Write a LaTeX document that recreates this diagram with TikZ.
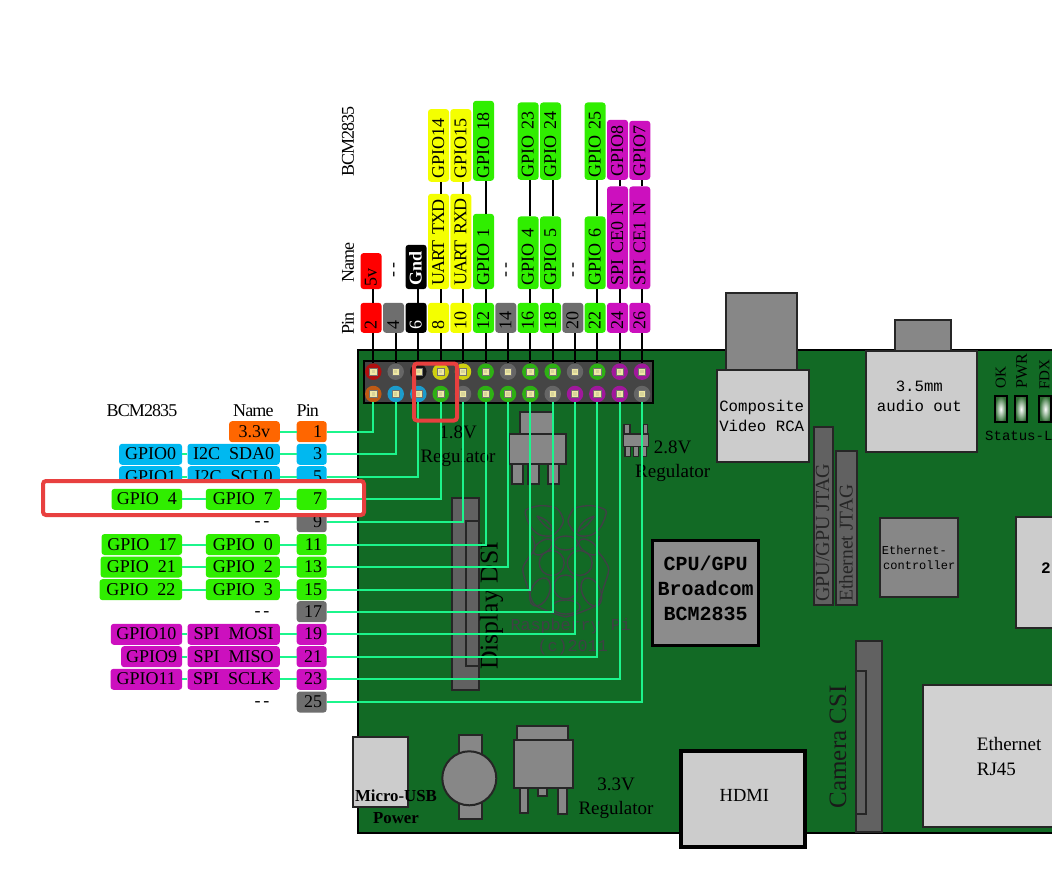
\documentclass[tikz,border=0pt]{standalone}
\usepackage{fontspec}
\setmainfont{Liberation Serif}
\newfontfamily\labf[WordSpace=2]{Liberation Serif}
\newfontfamily\tightf[LetterSpace=-5]{Liberation Serif}
\newfontfamily\monof{Liberation Mono}
\definecolor{board}{HTML}{126A25}
\definecolor{cOr}{HTML}{FF6600}
\definecolor{cBl}{HTML}{00B8F0}
\definecolor{cGr}{HTML}{30EE00}
\definecolor{cMa}{HTML}{CC10BE}
\definecolor{cGy}{HTML}{6E6E6E}
\definecolor{cRe}{HTML}{FF0000}
\definecolor{cYe}{HTML}{F4FF00}
\definecolor{cBk}{HTML}{000000}
\definecolor{dOr}{HTML}{BE5A14}
\definecolor{dBl}{HTML}{1C9CCC}
\definecolor{dGr}{HTML}{2EB014}
\definecolor{dMa}{HTML}{A0189C}
\definecolor{dGy}{HTML}{666666}
\definecolor{dRe}{HTML}{B01010}
\definecolor{dYe}{HTML}{CFCF10}
\definecolor{dBk}{HTML}{151515}
\definecolor{wirec}{HTML}{1CF58C}
\definecolor{hired}{HTML}{E8403F}
\definecolor{logoc}{HTML}{3F4145}
\definecolor{ledout}{HTML}{2F6E33}
\definecolor{padcream}{HTML}{F0E9A4}
\definecolor{padinner}{HTML}{D8D49A}
\tikzset{
  lab/.style={rounded corners=3pt,font=\labf\fontsize{18}{20}\selectfont,inner sep=0pt,minimum height=21pt,text height=13pt,text depth=2pt},
  leftpin/.style={lab,minimum width=30pt,text width=21pt,align=right},
  rowbox/.style={lab,anchor=east},
  toppin/.style={lab,rotate=90,anchor=west,minimum width=30pt,text width=24pt,align=left},
  topbox/.style={lab,rotate=90,anchor=west,align=left},
  plainlab/.style={font=\labf\fontsize{18}{20}\selectfont,inner sep=0pt},
  title/.style={font=\tightf\fontsize{18}{20}\selectfont,inner sep=0pt},
  wire/.style={draw=wirec,line width=2pt},
  bwire/.style={draw=black,line width=2.2pt},
  part/.style={draw=black!85,line width=2pt,fill=#1},
  part/.default={black!47},
  ser/.style={font=\fontsize{19}{22}\selectfont,inner sep=0pt,align=center},
  mono/.style={font=\monof\fontsize{15.7}{19}\selectfont,inner sep=0pt},
  pad/.style={circle,inner sep=0pt,minimum size=16.5pt},
  padsq/.style={inner sep=0pt,minimum size=7.5pt,fill=padcream,draw=black!55,line width=.8pt},
  padin/.style={inner sep=0pt,minimum size=3.5pt,fill=padinner},
  logo/.style={draw=logoc,line width=1.4pt},
  highlight/.style={draw=hired,line width=4pt,rounded corners=3pt},
}
\begin{document}
\begin{tikzpicture}[x=1pt,y=-1pt]
\useasboundingbox (0,0) rectangle (1052,877);
\fill[white] (0,0) rectangle (1052,877);
\clip (0,0) rectangle (1052,877);
% board
\draw[fill=board,draw=black,line width=2pt] (357.5,349.5) rectangle (1060,832.5);
% connectors at the top of the board
\draw[part] (726,293.5) rectangle (796.5,371);
\draw[part] (895,320) rectangle (951,351);
% Composite / audio
\node[part=black!20,minimum width=92pt,minimum height=91.5pt,inner sep=0pt] (rca) at (762.7,416) {};
\node[mono,align=center] (rcat) at (761.7,415.5) {Composite\\[1pt]Video RCA};
\node[part=black!20,minimum width=111pt,minimum height=101pt,inner sep=0pt] (aud) at (921.2,401.2) {};
\node[mono,align=center] (audt) at (919.3,396) {3.5mm\\[1pt]audio out};
% LEDs
\foreach \lx/\lw in {994.7/12,1015/12.3,1039.3/12}{
  \shade[inner color=white,outer color=ledout,draw=black,line width=2pt] (\lx,396) rectangle +(\lw,26.3);
}
\node[rotate=90,anchor=west,inner sep=0pt,text=black,font=\fontsize{15}{17}\selectfont] (okt) at (1000.7,388.5) {OK};
\node[rotate=90,anchor=west,inner sep=0pt,text=black,font=\fontsize{16}{17}\selectfont] (pwrt) at (1021.7,389) {PWR};
\node[rotate=90,anchor=west,inner sep=0pt,text=black,font=\fontsize{15}{17}\selectfont] (fdxt) at (1044.5,390) {FDX};
\node[anchor=west,inner sep=0pt,font=\monof\fontsize{14}{16}\selectfont] (stat) at (985,436) {Status-L};
% JTAG
\draw[part=black!62] (813.5,426.5) rectangle (833.3,605);
\draw[part=black!62] (835.5,450.5) rectangle (857,605);
\node[rotate=90,anchor=west,inner sep=0pt,text=black!85,font=\fontsize{20}{22}\selectfont] (jt1) at (822.5,602) {GPU/GPU JTAG};
\node[rotate=90,anchor=west,inner sep=0pt,text=black!85,font=\fontsize{19.5}{22}\selectfont] (jt2) at (846,602) {Ethernet JTAG};
% Ethernet controller
\draw[part] (880,518.3) rectangle (957.7,597.3);
\node[anchor=west,inner sep=0pt,font=\monof\fontsize{12}{14}\selectfont] (ec1) at (881.7,550) {Ethernet-};
\node[anchor=west,inner sep=0pt,font=\monof\fontsize{12}{14}\selectfont] (ec2) at (883,565) {controller};
% USB 2 box
\draw[part=black!20] (1016,516.7) rectangle (1060,627.7);
\node[inner sep=0pt,font=\monof\bfseries\fontsize{16}{18}\selectfont] (two) at (1046,568) {2};
% Ethernet
\draw[part=black!18] (922.7,685) rectangle (1060,826.7);
\node[ser,anchor=west,align=left] (rj) at (976.7,756) {Ethernet\\[3pt]RJ45};
% Camera
\draw[part=black!62] (856,640.7) rectangle (881.7,831.7);
\draw[part=black!62] (856,670.7) rectangle (866,814);
\node[rotate=90,anchor=west,inner sep=0pt,text=black!90,font=\fontsize{25}{27}\selectfont] (camt) at (838,808.5) {Camera CSI};
% CPU
\draw[draw=black,line width=3pt,fill=black!45] (652.7,540.3) rectangle (758.7,645);
\node[inner sep=0pt,align=center,font=\monof\bfseries\fontsize{20}{25}\selectfont] (cpu) at (705.5,588) {CPU/GPU\\Broadcom\\BCM2835};
% HDMI
\draw[draw=black,line width=4pt,fill=black!20] (681,751.3) rectangle (804.7,847);
\node[inner sep=0pt,font=\fontsize{18.5}{20}\selectfont] (hdmi) at (744.3,795) {HDMI};
% power section
\draw[part=black!20] (352.7,737.3) rectangle (408.3,806.7);
\node[inner sep=0pt,align=center,font=\bfseries\fontsize{16.8}{22}\selectfont] (usb) at (396,806.7) {Micro-USB\\Power};
\draw[part] (459.3,735) rectangle (481.7,818.7);
\draw[part] (469.3,778.3) circle (27);
\draw[part] (517.3,725.7) rectangle (567.7,740);
\draw[part] (514.3,740) rectangle (572.7,787.7);
\draw[part] (520,787.7) rectangle (527.7,813.3);
\draw[part] (558.3,787.7) rectangle (566.7,814.3);
\draw[part] (538.3,787.7) rectangle (547.3,796);
\node[ser] (r33) at (616,798) {3.3V\\[2pt]Regulator};
% 1.8 V regulator
\node[ser] (r18) at (458,446) {1.8V\\[2pt]Regulator};
% big regulator
\draw[part] (520,411.7) rectangle (552.7,434);
\draw[part] (509.3,434) rectangle (565.7,464.3);
\draw[part] (511.7,464.3) rectangle (522.7,484);
\draw[part] (528.3,464.3) rectangle (539.3,484);
\draw[part] (548.3,464.3) rectangle (559.3,484);
% small regulator
\draw[part,line width=1.5pt] (624,424.3) rectangle (630,434);
\draw[part,line width=1.5pt] (643.3,424.3) rectangle (647.3,434);
\draw[part,line width=1.5pt] (625,446.7) rectangle (630.7,456.7);
\draw[part,line width=1.5pt] (633.3,446.7) rectangle (638.7,456.7);
\draw[part,line width=1.5pt] (642.7,446.7) rectangle (646.7,456.7);
\draw[part,line width=1.5pt] (623.3,434) rectangle (648.7,446.7);
\node[ser] (r28) at (672.7,461) {2.8V\\[2pt]Regulator};
% Display DSI
\draw[part=black!62] (451.7,497.7) rectangle (478.7,690);
\draw[part=black!62] (466,521) rectangle (478.7,665.7);
\node[rotate=90,anchor=west,inner sep=0pt,font=\fontsize{25.7}{28}\selectfont] (dsi) at (491.5,670) {Display DSI};
% logo
\foreach \m in {0,1}{
\begin{scope}[shift={(\m*1131.4,0)},xscale={1-2*\m}]
  \draw[logo] plot[smooth cycle] coordinates {(526,510)(540,505.7)(556.7,508.3)(563.3,520)(560,528.3)(551.7,535.7)(540,535)(531.7,528.3)(526.7,518.3)};
  \draw[logo] (537,516) .. controls (545,519) and (552,523) .. (553,531) .. controls (546,528) and (541,522) .. (537,516);
  \draw[logo,rotate around={35:(543,547)}] (543,547) ellipse (11pt and 6pt);
  \draw[logo] (551.7,563) circle (12.5pt);
  \draw[logo,rotate around={-25:(540,592)}] (540,592) ellipse (9pt and 15pt);
  \draw[logo] plot[smooth] coordinates {(532,536)(535,548)(527,560)(522.7,570)(528,588)(534,604)(550,612)(565.7,617)};
\end{scope}
}
\draw[logo] (565.7,543) ellipse (12pt and 7pt);
\draw[logo] (565.7,587) circle (12pt);
\draw[logo] (566,607) ellipse (14pt and 7pt);
\node[inner sep=0pt,text=logoc,font=\monof\fontsize{16.7}{20}\selectfont] (rpit) at (570.7,625.7) {Raspberry Pi};
\node[inner sep=0pt,text=logoc,font=\monof\fontsize{16.7}{20}\selectfont] (rpic) at (572.7,646.7) {(c)2011};
% header
\draw[draw=black,line width=2pt,fill=black!73] (364,360.5) rectangle (653,403);
\foreach \n/\x/\c in {2/373.3/dRe,4/395.7/dGy,6/418.3/dBk,8/440.7/dYe,10/463/dYe,12/485.7/dGr,14/508/dGy,16/530.3/dGr,18/552.7/dGr,20/575/dGy,22/597.3/dGr,24/619.7/dMa,26/642/dMa}{
  \node[pad,fill=\c] (pad\n) at (\x,371.7) {};
  \node[padsq] (sq\n) at (\x,371.7) {};
  \node[padin] (in\n) at (\x,371.7) {};
}
\foreach \n/\x/\c in {1/373.3/dOr,3/395.7/dBl,5/418.3/dBl,7/440.7/dGr,9/463/dGy,11/485.7/dGr,13/508/dGr,15/530.3/dGr,17/552.7/dGy,19/575/dMa,21/597.3/dMa,23/619.7/dMa,25/642/dGy}{
  \node[pad,fill=\c] (pad\n) at (\x,394) {};
  \node[padsq] (sq\n) at (\x,394) {};
  \node[padin] (in\n) at (\x,394) {};
}
% top pins (boxes sit 2.2 left of their wires)
\foreach \n/\x/\c/\t in {2/371.1/cRe/black,4/393.5/cGy/black,6/416.1/cBk/white,8/438.5/cYe/black,10/460.8/cYe/black,12/483.5/cGr/black,14/505.8/cGy/black,16/528.1/cGr/black,18/550.5/cGr/black,20/572.8/cGy/black,22/595.1/cGr/black,24/617.5/cMa/black,26/639.8/cMa/black}{
  \node[toppin,fill=\c,text=\t] (P\n) at (\x,333) {\n};
  \draw[bwire] (pad\n.north) -- (pad\n.north |- P\n.west);
}
% top names
\node[topbox,fill=cRe,minimum width=36pt,text width=30pt] (N2) at (371.1,289.3) {5v};
\node[topbox,fill=cBk,text=white,minimum width=44.3pt,text width=38pt] (N6) at (416.1,289.3) {\bfseries Gnd};
\node[topbox,fill=cYe,minimum width=95.3pt,text width=89pt] (N8) at (438.5,289.3) {{\tightf UART TXD}};
\node[topbox,fill=cYe,minimum width=95.3pt,text width=89pt] (N10) at (460.8,289.3) {{\tightf UART RXD}};
\node[topbox,fill=cGr,minimum width=75.3pt,text width=69pt] (N12) at (483.5,289.3) {GPIO 1};
\node[topbox,fill=cGr,minimum width=72.6pt,text width=66pt] (N16) at (528.1,289.3) {GPIO 4};
\node[topbox,fill=cGr,minimum width=72.6pt,text width=66pt] (N18) at (550.5,289.3) {GPIO 5};
\node[topbox,fill=cGr,minimum width=72.6pt,text width=66pt] (N22) at (595.1,289.3) {GPIO 6};
\node[topbox,fill=cMa,minimum width=102.6pt,text width=96pt] (N24) at (617.5,289.3) {SPI CE0 N};
\node[topbox,fill=cMa,minimum width=102.6pt,text width=96pt] (N26) at (639.8,289.3) {SPI CE1 N};
\node[plainlab,rotate=90] (N4) at (395.7,270) {-\kern3pt-};
\node[plainlab,rotate=90] (N14) at (508,270) {-\kern3pt-};
\node[plainlab,rotate=90] (N20) at (575,270) {-\kern3pt-};
\foreach \n in {2,6,8,10,12,16,18,22,24,26}{
  \draw[bwire] (pad\n.north |- P\n.east) -- (pad\n.north |- N\n.west);
}
% top BCM
\node[topbox,fill=cYe,minimum width=72.7pt,text width=67pt] (B8) at (438.5,182) {GPIO14};
\node[topbox,fill=cYe,minimum width=72.7pt,text width=67pt] (B10) at (460.8,182) {GPIO15};
\node[topbox,fill=cGr,minimum width=80pt,text width=75pt] (B12) at (483.5,181) {GPIO 18};
\node[topbox,fill=cGr,minimum width=77.3pt,text width=72pt] (B16) at (528.1,180) {GPIO 23};
\node[topbox,fill=cGr,minimum width=77.3pt,text width=72pt] (B18) at (550.5,180) {GPIO 24};
\node[topbox,fill=cGr,minimum width=77.3pt,text width=72pt] (B22) at (595.1,180) {GPIO 25};
\node[topbox,fill=cMa,minimum width=60pt,text width=54pt] (B24) at (617.5,180) {GPIO8};
\node[topbox,fill=cMa,minimum width=59pt,text width=53pt] (B26) at (639.8,180) {GPIO7};
\foreach \n in {8,10,12,16,18,22,24,26}{
  \draw[bwire] (pad\n.north |- N\n.east) -- (pad\n.north |- B\n.west);
}
% titles top
\node[title,rotate=90,anchor=west] (tp1) at (348,335) {Pin};
\node[title,rotate=90,anchor=west] (tn1) at (348,283) {Name};
\node[title,rotate=90,anchor=west] (tb1) at (348,177) {BCM2835};
% titles left
\node[title,anchor=west] (tb2) at (106.5,411) {BCM2835};
\node[title,anchor=west] (tn2) at (233,411) {Name};
\node[title,anchor=west] (tp2) at (296.5,411) {Pin};
% left pins (all but the highlighted row)
\foreach \n/\y/\c in {1/431.7/cOr,3/454.3/cBl,5/476.7/cBl,9/521.7/cGy,11/544.5/cGr,13/567/cGr,15/589.7/cGr,17/611.7/cGy,19/634.3/cMa,21/656.7/cMa,23/679.3/cMa,25/702/cGy}{
  \node[leftpin,fill=\c] (P\n) at (311.7,\y) {\n};
}
% left names
\node[rowbox,fill=cOr,minimum width=50.7pt] (N1) at (280,431.7) {3.3v};
\node[rowbox,fill=cBl,minimum width=92.3pt] (N3) at (280,454.3) {I2C SDA0};
\node[rowbox,fill=cBl,minimum width=92.3pt] (N5) at (280,476.7) {I2C SCL0};
\node[plainlab] (N9) at (262,523.7) {-\kern3pt-};
\node[rowbox,fill=cGr,minimum width=74pt] (N11) at (280,544.5) {GPIO 0};
\node[rowbox,fill=cGr,minimum width=74pt] (N13) at (280,567) {GPIO 2};
\node[rowbox,fill=cGr,minimum width=74pt] (N15) at (280,589.7) {GPIO 3};
\node[plainlab] (N17) at (262,613.7) {-\kern3pt-};
\node[rowbox,fill=cMa,minimum width=92.3pt] (N19) at (280,634.3) {SPI MOSI};
\node[rowbox,fill=cMa,minimum width=92.3pt] (N21) at (280,656.7) {SPI MISO};
\node[rowbox,fill=cMa,minimum width=92.3pt] (N23) at (280,679.3) {SPI SCLK};
\node[plainlab] (N25) at (262,704) {-\kern3pt-};
% left BCM
\node[rowbox,fill=cBl,minimum width=63pt] (B3) at (182.3,454.3) {GPIO0};
\node[rowbox,fill=cBl,minimum width=63pt] (B5) at (182.3,476.7) {GPIO1};
\node[rowbox,fill=cGr,minimum width=80.6pt] (B11) at (182.3,544.5) {GPIO 17};
\node[rowbox,fill=cGr,minimum width=81.6pt] (B13) at (182.3,567) {GPIO 21};
\node[rowbox,fill=cGr,minimum width=82.6pt] (B15) at (182.3,589.7) {GPIO 22};
\node[rowbox,fill=cMa,minimum width=71.3pt] (B19) at (182.3,634.3) {GPIO10};
\node[rowbox,fill=cMa,minimum width=61pt] (B21) at (182.3,656.7) {GPIO9};
\node[rowbox,fill=cMa,minimum width=71.6pt] (B23) at (182.3,679.3) {GPIO11};
% white interior of the highlight, above rows 5 and 9
\fill[white,rounded corners=3pt] (43,481) rectangle (364,515);
% highlighted row
\node[leftpin,fill=cGr] (P7) at (311.7,499.3) {7};
\node[rowbox,fill=cGr,minimum width=74pt] (N7) at (280,499.3) {GPIO 7};
\node[rowbox,fill=cGr,minimum width=70.6pt] (B7) at (182.3,499.3) {GPIO 4};
% left connectors
\foreach \n in {1,3,5,7,11,13,15,19,21,23}{
  \draw[wire] (N\n.east) -- (P\n.west);
}
\foreach \n in {3,5,7,11,13,15,19,21,23}{
  \draw[wire] (B\n.east) -- (N\n.west);
}
\foreach \n in {1,3,5,7,9,11,13,15,17,19,21,23,25}{
  \draw[wire] (P\n.east) -| (pad\n.south);
}
% highlights
\draw[highlight] (43,481) rectangle (364,515);
\draw[highlight] (414,363.5) rectangle (457,420.5);
\end{tikzpicture}
\end{document}
